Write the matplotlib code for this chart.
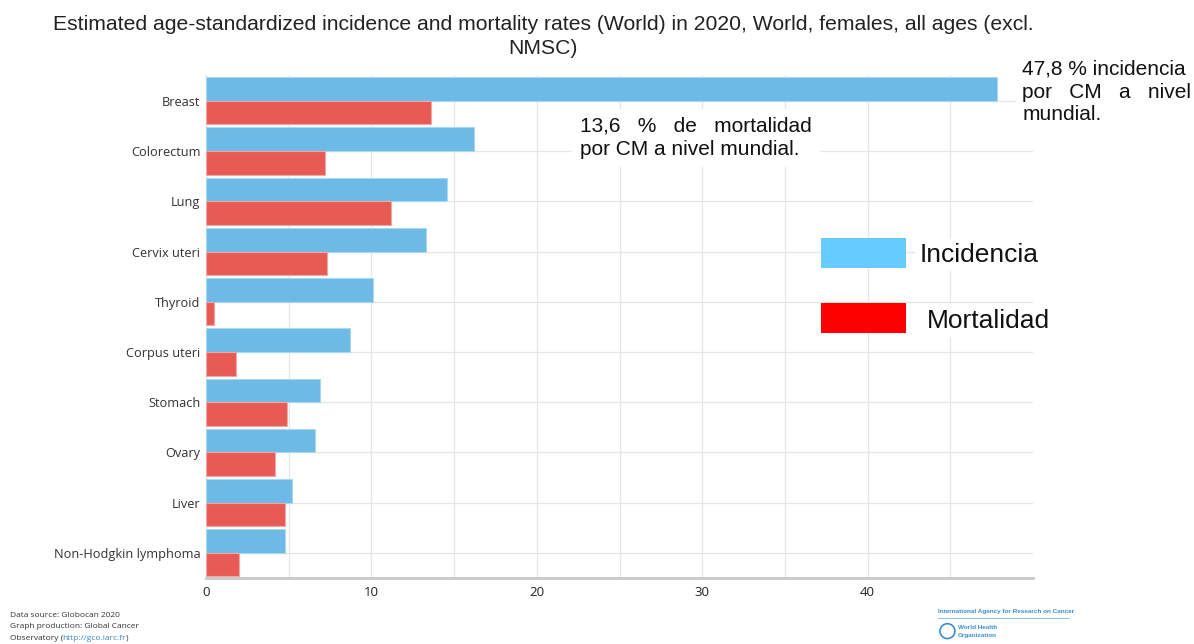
import matplotlib.pyplot as plt
from matplotlib.patches import Ellipse
import numpy as np

sites = ['Breast', 'Colorectum', 'Lung', 'Cervix uteri', 'Thyroid',
         'Corpus uteri', 'Stomach', 'Ovary', 'Liver', 'Non-Hodgkin lymphoma']
incidence = [47.8, 16.2, 14.6, 13.3, 10.1, 8.7, 6.9, 6.6, 5.2, 4.8]
mortality = [13.6, 7.2, 11.2, 7.3, 0.5, 1.8, 4.9, 4.2, 4.8, 2.0]

BLUE = '#6cbae5'
RED = '#e85b55'
SANS = ['Open Sans', 'DejaVu Sans']
ARIAL = ['Liberation Sans', 'DejaVu Sans']

fig = plt.figure(figsize=(11.94, 6.44), dpi=100)
ax = fig.add_axes([0.1725, 0.1025, 0.6927, 0.7815])

y = np.arange(len(sites))
h = 0.47
ax.barh(y - h / 2, incidence, height=h, color=BLUE, edgecolor='#a9d8f2', linewidth=0.8, zorder=3)
ax.barh(y + h / 2, mortality, height=h, color=RED, edgecolor='#f3a7a3', linewidth=0.8, zorder=3)

ax.set_ylim(len(sites) - 0.5, -0.52)
ax.set_xlim(0, 50)
ax.set_yticks(y)
ax.set_yticklabels(sites, family=SANS, fontsize=9.2, color='#333333')
ax.set_xticks([0, 10, 20, 30, 40])
ax.set_xticklabels(['0', '10', '20', '30', '40'], family=SANS, fontsize=9.5, color='#222222')
ax.set_xticks([5, 15, 25, 35, 45], minor=True)
ax.tick_params(axis='y', which='both', length=0, pad=4)
ax.tick_params(axis='x', which='both', length=0, pad=6)
ax.grid(True, which='both', color='#e6e6e6', linewidth=0.9, zorder=0)
ax.set_axisbelow(True)
for side in ['top', 'right', 'left']:
    ax.spines[side].set_visible(False)
ax.spines['bottom'].set_color('#c8c8c8')
ax.spines['bottom'].set_linewidth(2)

fig.text(0.455, 0.962, 'Estimated age-standardized incidence and mortality rates (World) in 2020, World, females, all ages (excl.',
         ha='center', va='center', family=ARIAL, fontsize=15.2, color='#222222')
fig.text(0.455, 0.925, 'NMSC)', ha='center', va='center', family=ARIAL, fontsize=15.2, color='#222222')

# annotations with white boxes over the grid
fig.text(0.486, 0.786, '13,6   %   de   mortalidad\npor CM a nivel mundial.', ha='left', va='center',
         family=ARIAL, fontsize=15, linespacing=1.25, color='#111111',
         bbox=dict(facecolor='white', edgecolor='none', pad=6))
fig.text(0.856, 0.857, '47,8 % incidencia\npor   CM   a   nivel\nmundial.', ha='left', va='center',
         family=ARIAL, fontsize=15, linespacing=1.25, color='#111111',
         bbox=dict(facecolor='white', edgecolor='none', pad=4))

# legend boxes
fig.patches.append(plt.Rectangle((0.6876, 0.584), 0.0712, 0.047, transform=fig.transFigure,
                                 facecolor='#66ccff', edgecolor='none'))
fig.patches.append(plt.Rectangle((0.6876, 0.483), 0.0712, 0.047, transform=fig.transFigure,
                                 facecolor='#ff0000', edgecolor='none'))
fig.text(0.770, 0.604, 'Incidencia', ha='left', va='center', family=ARIAL, fontsize=19,
         color='#111111', bbox=dict(facecolor='white', edgecolor='none', pad=3))
fig.text(0.776, 0.502, 'Mortalidad', ha='left', va='center', family=ARIAL, fontsize=19,
         color='#111111', bbox=dict(facecolor='white', edgecolor='none', pad=3))

# footer: source note, the link chained after its opening text
fig.text(0.008, 0.045, 'Data source: Globocan 2020', family=SANS, fontsize=6, color='#333333', va='center')
fig.text(0.008, 0.027, 'Graph production: Global Cancer', family=SANS, fontsize=6, color='#333333', va='center')
t1 = fig.text(0.008, 0.009, 'Observatory (', family=SANS, fontsize=6, color='#333333', va='center')
t2 = plt.annotate('http://gco.iarc.fr', xy=(1, 0.5), xycoords=t1, va='center', ha='left',
                  family=SANS, fontsize=6, color='#3a86c8', annotation_clip=False)
plt.annotate(')', xy=(1, 0.5), xycoords=t2, va='center', ha='left',
             family=SANS, fontsize=6, color='#333333', annotation_clip=False)

# IARC / WHO mark
fig.text(0.786, 0.050, 'International Agency for Research on Cancer', family=ARIAL,
         fontsize=4.6, color='#3a8fd0', va='center', weight='bold')
fig.add_artist(plt.Line2D([0.786, 0.895], [0.040, 0.040], color='#7fb9e3', linewidth=0.6))
fig.patches.append(Ellipse((0.7935, 0.020), 0.0125, 0.023, transform=fig.transFigure,
                           facecolor='white', edgecolor='#3a8fd0', linewidth=1.2))
fig.text(0.802, 0.026, 'World Health', family=ARIAL, fontsize=4.6, color='#3a8fd0',
         va='center', weight='bold')
fig.text(0.802, 0.013, 'Organization', family=ARIAL, fontsize=4.6, color='#3a8fd0',
         va='center', weight='bold')

fig.savefig('out.png', dpi=100)
